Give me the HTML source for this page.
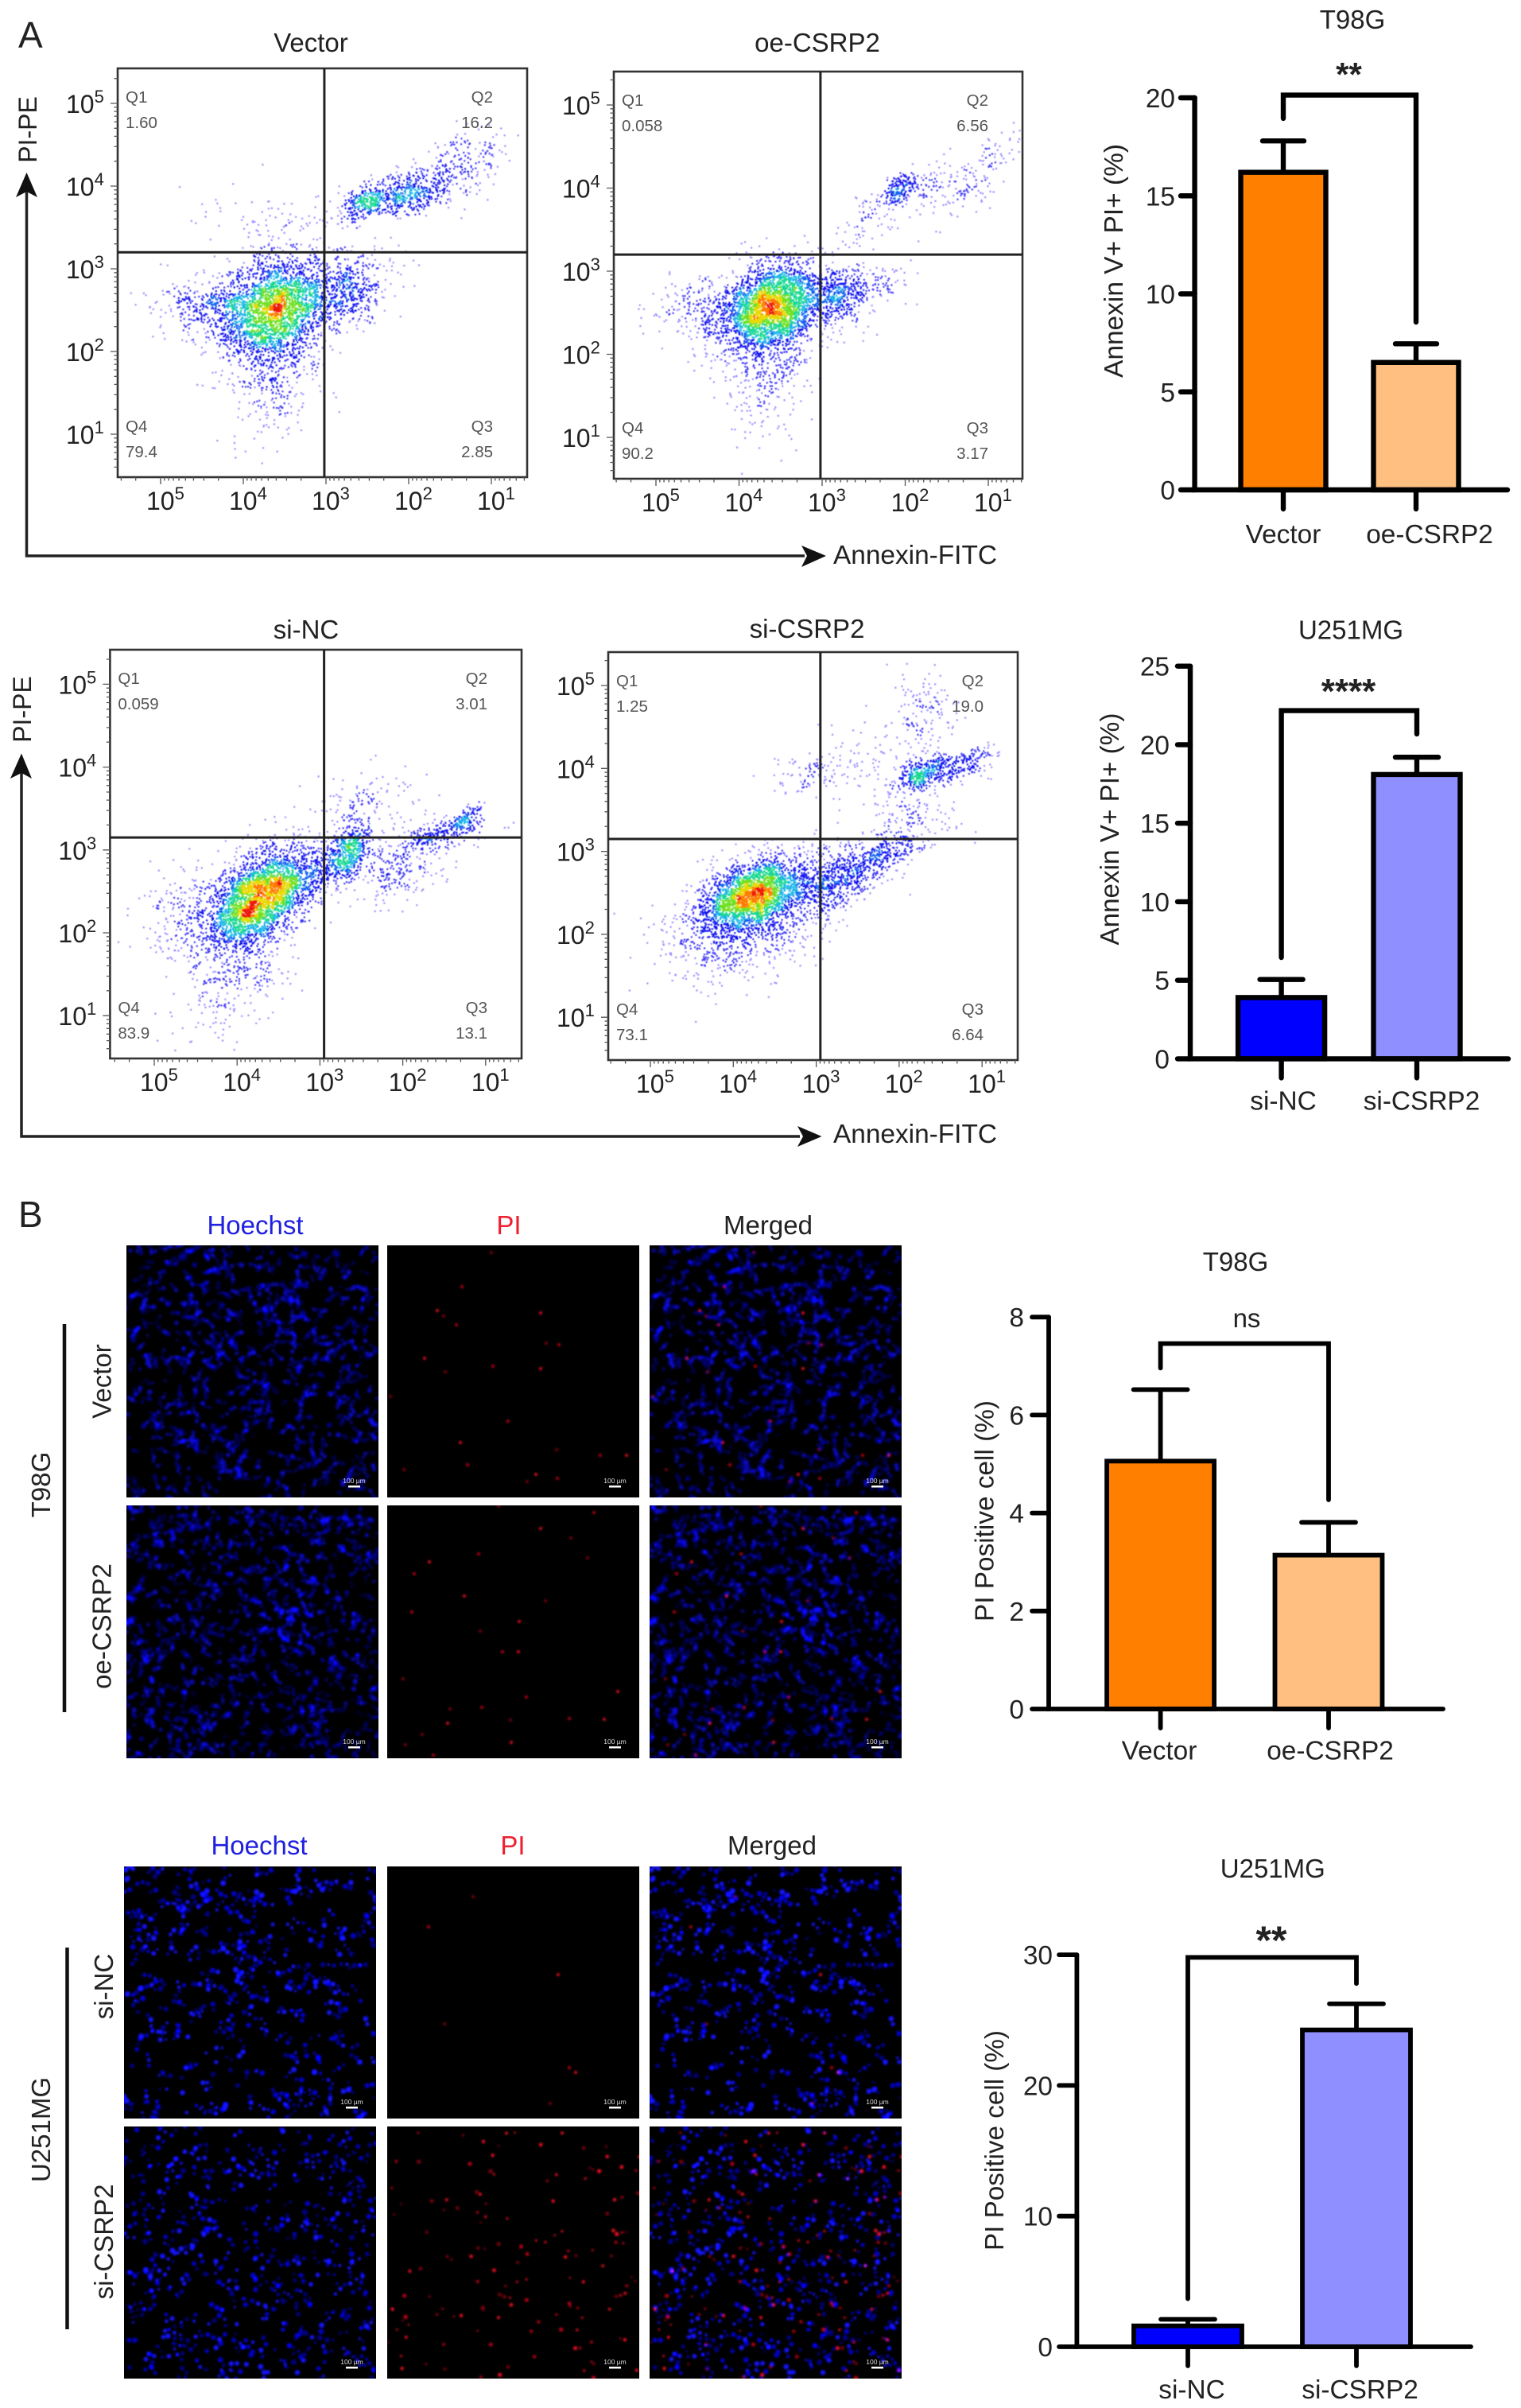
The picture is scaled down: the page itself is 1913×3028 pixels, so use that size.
<!DOCTYPE html>
<html lang="en">
<head>
<meta charset="utf-8">
<title>CSRP2 apoptosis flow cytometry and PI staining figure</title>
<style>
  html, body { margin: 0; padding: 0; background: #fff; }
  #figure { position: relative; width: 1913px; height: 3028px; overflow: hidden; background: #fff; }
  #figure canvas { position: absolute; display: block; }
  #overlay { position: absolute; left: 0; top: 0; }
  text { font-family: "Liberation Sans", sans-serif; fill: #222; }
</style>
</head>
<body>
<div id="figure">
<svg id="overlay" width="1913" height="3028" viewBox="0 0 1913 3028" xmlns="http://www.w3.org/2000/svg">
  <defs>
    <filter id="soft" x="-2%" y="-2%" width="104%" height="104%"><feGaussianBlur stdDeviation="0.5"/></filter>
    <clipPath id="clip-a"><rect x="148" y="86" width="515" height="514"/></clipPath>
    <clipPath id="clip-b"><rect x="772" y="90" width="514" height="512"/></clipPath>
    <clipPath id="clip-c"><rect x="138" y="817" width="518" height="514"/></clipPath>
    <clipPath id="clip-d"><rect x="765" y="820" width="515" height="513"/></clipPath>
  </defs>

  <text x="23" y="60" font-size="46">A</text>
  <text x="23" y="1543" font-size="46">B</text>

  <g id="flow-layer"></g>

  <!-- flow plot axis arrows, row 1 -->
  <g stroke="#222" stroke-width="3.5" fill="none">
    <path d="M33.5 240 V699 H1012"/>
  </g>
  <path d="M33.5 217 L47 248 L33.5 241 L20 248 Z" fill="#111"/>
  <path d="M1039 699 L1008 686 L1015 699 L1008 713 Z" fill="#111"/>
  <text transform="translate(46 163) rotate(-90)" text-anchor="middle" font-size="32">PI-PE</text>
  <text x="1048" y="709" font-size="33.4">Annexin-FITC</text>

  <!-- flow plot axis arrows, row 2 -->
  <g stroke="#222" stroke-width="3.5" fill="none">
    <path d="M27 972 V1429 H1006"/>
  </g>
  <path d="M27 947.5 L40 979 L27 972 L13 979 Z" fill="#111"/>
  <path d="M1033.5 1429 L1003 1416 L1010 1429 L1003 1442 Z" fill="#111"/>
  <text transform="translate(39 892) rotate(-90)" text-anchor="middle" font-size="32">PI-PE</text>
  <text x="1048" y="1437" font-size="33.4">Annexin-FITC</text>

  <g id="bar-layer"></g>

  <!-- microscopy headers -->
  <g font-size="33" text-anchor="middle">
    <text x="321" y="1552" style="fill:#2020e0">Hoechst</text>
    <text x="640" y="1552" style="fill:#ee2030">PI</text>
    <text x="966" y="1552">Merged</text>
  </g>
  <g font-size="33" text-anchor="middle">
    <text x="326" y="2332" style="fill:#2020e0">Hoechst</text>
    <text x="645" y="2332" style="fill:#ee2030">PI</text>
    <text x="971" y="2332">Merged</text>
  </g>

  <!-- microscopy row labels -->
  <text transform="translate(63 1867) rotate(-90)" text-anchor="middle" font-size="33">T98G</text>
  <line x1="81" y1="1665" x2="81" y2="2153" stroke="#111" stroke-width="4.5"/>
  <text transform="translate(139.5 1737) rotate(-90)" text-anchor="middle" font-size="33">Vector</text>
  <text transform="translate(139.5 2045) rotate(-90)" text-anchor="middle" font-size="33">oe-CSRP2</text>

  <text transform="translate(63 2678) rotate(-90)" text-anchor="middle" font-size="33">U251MG</text>
  <line x1="84.5" y1="2449" x2="84.5" y2="2929" stroke="#111" stroke-width="4.5"/>
  <text transform="translate(142 2498) rotate(-90)" text-anchor="middle" font-size="33">si-NC</text>
  <text transform="translate(142 2819) rotate(-90)" text-anchor="middle" font-size="33">si-CSRP2</text>

  <g id="scale-layer"></g>
</svg>
</div>

<script>
/* ===== Bar chart data ===== */
const a1Categories = ['Vector', 'oe-CSRP2'];
const a1Values = [16.2, 6.5];
const a1Errors = [1.6, 0.95];
const a1Ticks = [0, 5, 10, 15, 20];
const a1Bracket = [20.14, 18.95, 8.56];

const a2Categories = ['si-NC', 'si-CSRP2'];
const a2Values = [3.9, 18.1];
const a2Errors = [1.15, 1.1];
const a2Ticks = [0, 5, 10, 15, 20, 25];
const a2Bracket = [22.17, 6.45, 20.68];

const b1Categories = ['Vector', 'oe-CSRP2'];
const b1Values = [5.06, 3.14];
const b1Errors = [1.46, 0.67];
const b1Ticks = [0, 2, 4, 6, 8];
const b1Bracket = [7.46, 6.96, 4.27];

const b2Categories = ['si-NC', 'si-CSRP2'];
const b2Values = [1.6, 24.25];
const b2Errors = [0.5, 2.0];
const b2Ticks = [0, 10, 20, 30];
const b2Bracket = [29.8, 3.68, 27.8];

const orangeColors = ['#ff7f00', '#ffbf80'];
const blueColors = ['#0000ff', '#8f8fff'];

/* ===== Flow cytometry data =====
   Each row is one population:
   [log10 Annexin, log10 PI, spread Annexin, spread PI, correlation, event count].
   Individual events are speckle texture scattered around these populations. */
const flowDecades = [5, 4, 3, 2, 1];

const vectorPopulations = [
  [3.6, 2.55, .34, .33, -.2, 2400],
  [3.65, 1.85, .27, .45, 0, 380],
  [4.4, 2.5, .32, .2, 0, 350],
  [2.75, 2.75, .2, .2, 0, 350],
  [2.52, 3.82, .18, .12, -.5, 300],
  [1.96, 3.93, .22, .14, -.3, 340],
  [1.37, 4.27, .3, .24, -.5, 220],
  [3.72, 3.64, .5, .22, 0, 70],
  [2.4, 3.03, .3, .14, 0, 50]
];
const vectorGate = [3.02, 3.2];
const vectorQuadrants = ['1.60', '16.2', '2.85', '79.4'];

const oePopulations = [
  [3.6, 2.57, .3, .27, -.25, 2600],
  [3.7, 1.85, .26, .4, 0, 320],
  [4.4, 2.5, .32, .2, 0, 250],
  [2.8, 2.7, .2, .18, 0, 400],
  [2.3, 2.85, .24, .13, 0, 70],
  [2.06, 4.0, .12, .1, -.5, 170],
  [1.46, 4.02, .26, .18, -.2, 140],
  [.9, 4.47, .25, .17, -.6, 50],
  [2.44, 3.63, .2, .18, -.4, 70]
];
const oeGate = [3.02, 3.2];
const oeQuadrants = ['0.058', '6.56', '3.17', '90.2'];

const siNcPopulations = [
  [3.78, 2.41, .3, .3, -.4, 2400],
  [4.03, 1.63, .38, .42, -.3, 380],
  [4.6, 2.2, .32, .32, 0, 200],
  [2.67, 2.97, .15, .16, -.4, 450],
  [3.3, 2.65, .27, .23, -.4, 500],
  [1.59, 3.18, .33, .13, -.6, 230],
  [1.28, 3.36, .12, .09, -.7, 110],
  [2.44, 3.53, .3, .22, 0, 140],
  [2.15, 2.75, .32, .2, -.3, 220]
];
const siNcGate = [2.95, 3.15];
const siNcQuadrants = ['0.059', '3.01', '13.1', '83.9'];

const siCsrpPopulations = [
  [3.78, 2.48, .3, .22, -.4, 2000],
  [3.9, 2.15, .47, .37, -.3, 900],
  [2.8, 2.66, .27, .22, -.4, 600],
  [2.21, 2.97, .25, .14, -.6, 280],
  [1.74, 3.94, .16, .11, -.4, 320],
  [1.23, 4.07, .2, .11, -.5, 170],
  [1.74, 4.6, .2, .3, 0, 150],
  [1.85, 3.45, .26, .2, 0, 130],
  [3.1, 3.94, .27, .14, 0, 80],
  [2.5, 4.07, .32, .22, 0, 70]
];
const siCsrpGate = [2.95, 3.15];
const siCsrpQuadrants = ['1.25', '19.0', '6.64', '73.1'];

/* ===== helpers ===== */
const NS = 'http://www.w3.org/2000/svg';
function mk(tag, attrs, parent) {
  const el = document.createElementNS(NS, tag);
  for (const k in attrs) el.setAttribute(k, attrs[k]);
  parent.appendChild(el);
  return el;
}
function speckle(seed) {
  let s = seed >>> 0;
  return function () {
    s = (s + 0x6D2B79F5) >>> 0;
    let t = s;
    t = Math.imul(t ^ (t >>> 15), t | 1);
    t ^= t + Math.imul(t ^ (t >>> 7), t | 61);
    return ((t ^ (t >>> 14)) >>> 0) / 4294967296;
  };
}

/* ===== Bar charts ===== */
function drawBarChart(geo, cats, vals, errs, ticks, bracket, colors) {
  const root = document.getElementById('bar-layer');
  const g = mk('g', {}, root);
  
  
  const yScale = function (v) { return geo.y0 - v * geo.unit; };
  const xScale = function (i) { return geo.c0 + i * (geo.c1 - geo.c0); };
  const sw = geo.sw;

  vals.forEach(function (v, i) {
    const cx = xScale(i);
    const errTop = yScale(v + errs[i]);
    const stem = mk('line', { x1: cx, x2: cx, y1: yScale(v), y2: errTop, stroke: '#000', 'stroke-width': sw }, g);
    
    
    const cap = mk('line', { x1: cx - geo.capW / 2, x2: cx + geo.capW / 2, y1: errTop, y2: errTop, stroke: '#000', 'stroke-width': sw, 'stroke-linecap': 'round' }, g);
    
    
    const bar = mk('rect', { x: cx - geo.barW / 2, y: yScale(v), width: geo.barW, height: geo.y0 - yScale(v), fill: colors[i], stroke: '#000', 'stroke-width': sw }, g);
    
    
    const tick = mk('line', { x1: cx, x2: cx, y1: geo.y0, y2: geo.y0 + 24, stroke: '#000', 'stroke-width': sw, 'stroke-linecap': 'round' }, g);
    
    
    const lab = mk('text', { x: geo.labX[i], y: geo.labY + 12, 'text-anchor': 'middle', 'font-size': 33.4 }, g);
    lab.textContent = cats[i];
    
    
  });

  const axis = mk('path', { d: 'M' + geo.axisX + ' ' + yScale(ticks[ticks.length - 1]) + ' V' + geo.y0 + ' H' + geo.axisEnd, fill: 'none', stroke: '#000', 'stroke-width': sw, 'stroke-linecap': 'round' }, g);
  
  

  ticks.forEach(function (t) {
    const yy = yScale(t);
    const tk = mk('line', { x1: geo.tickLeft, x2: geo.axisX, y1: yy, y2: yy, stroke: '#000', 'stroke-width': sw, 'stroke-linecap': 'round' }, g);
    
    
    const tl = mk('text', { x: geo.labRight, y: yy + 12, 'text-anchor': 'end', 'font-size': 33.4 }, g);
    tl.textContent = String(t);
    
    
  });

  const br = mk('path', { d: 'M' + xScale(0) + ' ' + yScale(bracket[1]) + ' V' + yScale(bracket[0]) + ' H' + xScale(1) + ' V' + yScale(bracket[2]), fill: 'none', stroke: '#000', 'stroke-width': sw, 'stroke-linejoin': 'miter', 'stroke-linecap': 'round' }, g);
  
  

  const sig = mk('text', { x: geo.sigX, y: geo.sigY, 'text-anchor': 'middle', 'font-size': geo.sigSize, 'font-weight': geo.sigWeight }, g);
  sig.textContent = geo.sig;
  
  

  const title = mk('text', { x: geo.titleX, y: geo.titleY + 11, 'text-anchor': 'middle', 'font-size': 33 }, g);
  title.textContent = geo.title;
  
  

  const yt = mk('text', { transform: 'translate(' + (geo.yTitleX + 12) + ' ' + geo.yTitleY + ') rotate(-90)', 'text-anchor': 'middle', 'font-size': 33, textLength: geo.yTitleLen, lengthAdjust: 'spacingAndGlyphs' }, g);
  yt.textContent = geo.yTitle;
  
  
}

drawBarChart({ y0: 616, unit: 24.65, c0: 1614, c1: 1781, barW: 107, capW: 52, sw: 6.4, axisX: 1502.6, axisEnd: 1896, tickLeft: 1485, labRight: 1478, labX: [1614, 1798], labY: 671, sig: '**', sigX: 1696.5, sigY: 108, sigSize: 42, sigWeight: 'bold', title: 'T98G', titleX: 1701, titleY: 25, yTitle: 'Annexin V+ PI+ (%)', yTitleX: 1400, yTitleY: 328, yTitleLen: 294 },
  a1Categories, a1Values, a1Errors, a1Ticks, a1Bracket, orangeColors);

drawBarChart({ y0: 1331.4, unit: 19.75, c0: 1611.6, c1: 1782, barW: 109, capW: 54, sw: 6.4, axisX: 1497, axisEnd: 1897, tickLeft: 1481, labRight: 1471, labX: [1614, 1788], labY: 1383.7, sig: '****', sigX: 1696, sigY: 884, sigSize: 44, sigWeight: 'bold', title: 'U251MG', titleX: 1699, titleY: 792.6, yTitle: 'Annexin V+ PI+ (%)', yTitleX: 1395, yTitleY: 1042.6, yTitleLen: 292 },
  a2Categories, a2Values, a2Errors, a2Ticks, a2Bracket, blueColors);

drawBarChart({ y0: 2149, unit: 61.6, c0: 1459.6, c1: 1671, barW: 135, capW: 68, sw: 5.8, axisX: 1319, axisEnd: 1815, tickLeft: 1298, labRight: 1288, labX: [1458, 1673], labY: 2200.7, sig: 'ns', sigX: 1568, sigY: 1669, sigSize: 33, sigWeight: 'normal', title: 'T98G', titleX: 1554, titleY: 1587, yTitle: 'PI Positive cell (%)', yTitleX: 1237.5, yTitleY: 1900, yTitleLen: 278 },
  b1Categories, b1Values, b1Errors, b1Ticks, b1Bracket, orangeColors);

drawBarChart({ y0: 2951, unit: 16.43, c0: 1494, c1: 1706, barW: 136, capW: 68, sw: 5.8, axisX: 1354.4, axisEnd: 1850, tickLeft: 1332, labRight: 1324, labX: [1499, 1710.6], labY: 3004, sig: '**', sigX: 1599, sigY: 2457, sigSize: 50, sigWeight: 'bold', title: 'U251MG', titleX: 1600.8, titleY: 2350, yTitle: 'PI Positive cell (%)', yTitleX: 1250, yTitleY: 2691.5, yTitleLen: 277 },
  b2Categories, b2Values, b2Errors, b2Ticks, b2Bracket, blueColors);

/* ===== Flow plots ===== */
const densityColors = ['#9488ff', '#3a30f6', '#0a10f0', '#0a60f0', '#12b4e8', '#14d890', '#6fe020', '#e8d800', '#ff7a00', '#ee1810'];
const densityLimits = [.06, .14, .3, .38, .46, .6, .74, .85, .94, 9];

function drawFlowPlot(geo, populations, gate, quadrants, seed) {
  const root = document.getElementById('flow-layer');
  const g = mk('g', {}, root);
  
  
  const xOf = function (lg) { return geo.tx + (5 - lg) * geo.step; };
  const yOf = function (lg) { return geo.ty + (5 - lg) * geo.step; };

  const rng = speckle(seed);
  const normal = function () {
    return Math.sqrt(-2 * Math.log(rng() + 1e-9)) * Math.cos(2 * Math.PI * rng());
  };
  const pts = [];
  populations.forEach(function (p) {
    for (let i = 0; i < p[5]; i++) {
      const z1 = normal();
      const z2 = normal();
      const lx = p[0] + p[2] * z1;
      const ly = p[1] + p[3] * (p[4] * z1 + Math.sqrt(1 - p[4] * p[4]) * z2);
      const px = xOf(lx);
      const py = yOf(ly);
      if (px > geo.x0 + 2 && px < geo.x1 - 2 && py > geo.y0 + 2 && py < geo.y1 - 2) pts.push([px, py]);
    }
  });

  const cell = 5;
  const cols = Math.ceil((geo.x1 - geo.x0) / cell) + 2;
  const rows = Math.ceil((geo.y1 - geo.y0) / cell) + 2;
  const grid = new Float32Array(cols * rows);
  const cellOf = function (pt) {
    return [Math.floor((pt[0] - geo.x0) / cell) + 1, Math.floor((pt[1] - geo.y0) / cell) + 1];
  };
  pts.forEach(function (pt) {
    const c = cellOf(pt);
    grid[c[1] * cols + c[0]] += 1;
  });
  const smooth = function (cx, cy) {
    let s = 0;
    for (let dy = -1; dy <= 1; dy++) for (let dx = -1; dx <= 1; dx++) {
      const ix = cx + dx, iy = cy + dy;
      if (ix >= 0 && iy >= 0 && ix < cols && iy < rows) s += grid[iy * cols + ix];
    }
    return s / 9;
  };
  let peak = 0;
  pts.forEach(function (pt) {
    const c = cellOf(pt);
    peak = Math.max(peak, smooth(c[0], c[1]));
  });
  const bins = densityColors.map(function () { return []; });
  pts.forEach(function (pt) {
    const c = cellOf(pt);
    const t = smooth(c[0], c[1]) / peak;
    let b = 0;
    while (t > densityLimits[b]) b++;
    bins[b].push('M' + pt[0].toFixed(1) + ' ' + pt[1].toFixed(1) + 'h2.1v2.1h-2.1z');
  });
  const dots = mk('g', { 'clip-path': 'url(#' + geo.clip + ')', filter: 'url(#soft)' }, g);
  
  
  bins.forEach(function (b, i) {
    if (!b.length) return;
    const bin = mk('path', { d: b.join(''), fill: densityColors[i] }, dots);
    
    
  });

  const frame = mk('rect', { x: geo.x0, y: geo.y0, width: geo.x1 - geo.x0, height: geo.y1 - geo.y0, fill: 'none', stroke: '#333', 'stroke-width': 2.6 }, g);
  
  
  const vGate = mk('line', { x1: xOf(gate[0]), x2: xOf(gate[0]), y1: geo.y0, y2: geo.y1, stroke: '#222', 'stroke-width': 3 }, g);
  
  
  const hGate = mk('line', { x1: geo.x0, x2: geo.x1, y1: yOf(gate[1]), y2: yOf(gate[1]), stroke: '#222', 'stroke-width': 3 }, g);
  
  

  let tickPath = '';
  flowDecades.forEach(function (d) {
    tickPath += 'M' + xOf(d) + ' ' + geo.y1 + 'v9M' + geo.x0 + ' ' + yOf(d) + 'h-9';
  });
  for (let d = 6; d >= 0; d--) {
    for (let k = 2; k < 10; k++) {
      const lg = d + Math.log10(k);
      const xm = xOf(lg);
      const ym = yOf(lg);
      if (xm > geo.x0 && xm < geo.x1) tickPath += 'M' + xm.toFixed(1) + ' ' + geo.y1 + 'v4.5';
      if (ym > geo.y0 && ym < geo.y1) tickPath += 'M' + geo.x0 + ' ' + ym.toFixed(1) + 'h-4.5';
    }
  }
  const tk = mk('path', { d: tickPath, stroke: '#555', 'stroke-width': 1.3, fill: 'none' }, g);
  
  

  flowDecades.forEach(function (d) {
    const xl = mk('text', { x: xOf(d) - 18, y: geo.y1 + 41, 'font-size': 32 }, g);
    
    
    xl.appendChild(document.createTextNode('10'));
    const xs = mk('tspan', { 'font-size': 22, dy: -13 }, xl);
    xs.textContent = String(d);
    const yl = mk('text', { x: geo.x0 - 65, y: yOf(d) + 12, 'font-size': 32 }, g);
    
    
    yl.appendChild(document.createTextNode('10'));
    const ys = mk('tspan', { 'font-size': 22, dy: -13 }, yl);
    ys.textContent = String(d);
  });

  const qNames = ['Q1', 'Q2', 'Q3', 'Q4'];
  qNames.forEach(function (q, i) {
    const right = i === 1 || i === 2;
    const bottom = i >= 2;
    const qx = right ? geo.x1 - 43 : geo.x0 + 10;
    const qy = bottom ? geo.y1 - 57 : geo.y0 + 43;
    const anchor = right ? 'end' : 'start';
    const qt = mk('text', { x: qx, y: qy, 'font-size': 20.5, 'text-anchor': anchor, style: 'fill:#555' }, g);
    qt.textContent = q;
    
    
    const qv = mk('text', { x: qx, y: qy + 32, 'font-size': 20.5, 'text-anchor': anchor, style: 'fill:#555' }, g);
    qv.textContent = quadrants[i];
    
    
  });

  const title = mk('text', { x: geo.titleX, y: geo.titleY + 11, 'text-anchor': 'middle', 'font-size': 33 }, g);
  title.textContent = geo.title;
  
  
}

drawFlowPlot({ x0: 148, x1: 663, y0: 86, y1: 600, tx: 202, ty: 130, step: 104, clip: 'clip-a', title: 'Vector', titleX: 391, titleY: 54 }, vectorPopulations, vectorGate, vectorQuadrants, 11);
drawFlowPlot({ x0: 772, x1: 1286, y0: 90, y1: 602, tx: 825, ty: 132, step: 104.5, clip: 'clip-b', title: 'oe-CSRP2', titleX: 1028, titleY: 54 }, oePopulations, oeGate, oeQuadrants, 23);
drawFlowPlot({ x0: 138.4, x1: 656, y0: 817, y1: 1331, tx: 194, ty: 860.4, step: 104.2, clip: 'clip-c', title: 'si-NC', titleX: 385, titleY: 792 }, siNcPopulations, siNcGate, siNcQuadrants, 37);
drawFlowPlot({ x0: 765, x1: 1280, y0: 820, y1: 1333, tx: 818, ty: 862, step: 104.3, clip: 'clip-d', title: 'si-CSRP2', titleX: 1015, titleY: 791 }, siCsrpPopulations, siCsrpGate, siCsrpQuadrants, 41);

/* ===== Microscopy fields (image texture, not chart data) ===== */
/* PI-positive nuclei located by eye in the reference, in panel pixels. */
const piVector = [[131,9],[94,52],[63,82],[71,89],[87,100],[193,85],[200,123],[216,125],[47,142],[73,159],[133,152],[193,155],[4,190],[152,221],[92,248],[213,257],[268,264],[301,264],[21,282],[101,276],[187,288],[176,297],[214,293]];
const piOe = [[140,1],[260,9],[193,29],[231,41],[115,61],[53,71],[252,66],[34,86],[97,114],[199,120],[31,134],[166,146],[117,158],[145,184],[165,184],[20,218],[175,241],[290,234],[79,256],[119,254],[76,274],[155,270],[229,268],[273,269],[23,301],[58,314],[156,298],[44,288]];
const piNc = [[108,38],[52,76],[215,136],[72,198],[229,253],[237,259],[205,298]];

function makeSpots(seed, count, size, w, h, stepLen, maxLen) {
  const rng = speckle(seed);
  const spots = [];
  while (spots.length < count) {
    let x = rng() * w;
    let y = rng() * h;
    let a = rng() * 6.283;
    const len = 1 + Math.floor(rng() * maxLen);
    for (let i = 0; i < len; i++) {
      spots.push([x, y, size * (.6 + rng() * .8), Math.floor(rng() * 3)]);
      a += (rng() - .5) * 1.6;
      x += Math.cos(a) * stepLen;
      y += Math.sin(a) * stepLen;
    }
  }
  return spots;
}
function placedSpots(list) {
  return list.map(function (p, i) { return [p[0], p[1], 2, i % 3]; });
}
function paintSpots(ctx, spots, colors, blur) {
  ctx.globalCompositeOperation = 'lighter';
  ctx.filter = 'blur(' + blur + 'px)';
  colors.forEach(function (col, idx) {
    ctx.fillStyle = col;
    ctx.beginPath();
    spots.forEach(function (s) {
      if (s[3] === idx) {
        ctx.moveTo(s[0] + s[2], s[1]);
        ctx.arc(s[0], s[1], s[2], 0, 6.283);
      }
    });
    ctx.fill();
  });
  ctx.filter = 'none';
}

const figure = document.getElementById('figure');
const scaleLayer = document.getElementById('scale-layer');
const denseBlue = ['#000064', '#0000a0', '#0c0cd8'];
const brightBlue = ['#000088', '#0000cc', '#1414ff'];
const redSpots = ['#800010', '#c00018', '#e81020'];

function addRow(y, h, xs, w, blue, blues, red, blueBlur) {
  xs.forEach(function (x, col) {
    const cv = document.createElement('canvas');
    
    
    cv.width = w;
    cv.height = h;
    cv.style.left = x + 'px';
    cv.style.top = y + 'px';
    figure.insertBefore(cv, figure.firstChild);
    const ctx = cv.getContext('2d');
    ctx.fillStyle = '#000';
    ctx.fillRect(0, 0, w, h);
    if (col !== 1) paintSpots(ctx, blue, blues, blueBlur);
    if (col !== 0) paintSpots(ctx, red, redSpots, .9);

    const bar = mk('rect', { x: x + w - 38, y: y + h - 15, width: 15, height: 2.5, fill: '#fff' }, scaleLayer);
    
    
    const lab = mk('text', { x: x + w - 30.5, y: y + h - 18, 'text-anchor': 'middle', 'font-size': 8.5, style: 'fill:#ddd' }, scaleLayer);
    lab.textContent = '100 µm';
    
    
  });
}

addRow(1566, 317, [159, 487, 817], 317, makeSpots(101, 1500, 2.1, 317, 317, 5, 4), denseBlue, placedSpots(piVector), 1.4);
addRow(1893, 318, [159, 487, 817], 317, makeSpots(102, 1650, 2.1, 317, 318, 5, 3), denseBlue, placedSpots(piOe), 1.4);
addRow(2347, 317, [156, 487, 817], 317, makeSpots(103, 720, 2.5, 317, 317, 7, 3), brightBlue, placedSpots(piNc), 1.1);
addRow(2674, 317, [156, 487, 817], 317, makeSpots(104, 720, 2.4, 317, 317, 8, 2), brightBlue, makeSpots(204, 140, 1.9, 317, 317, 9, 1), 1.1);
</script>
</body>
</html>
